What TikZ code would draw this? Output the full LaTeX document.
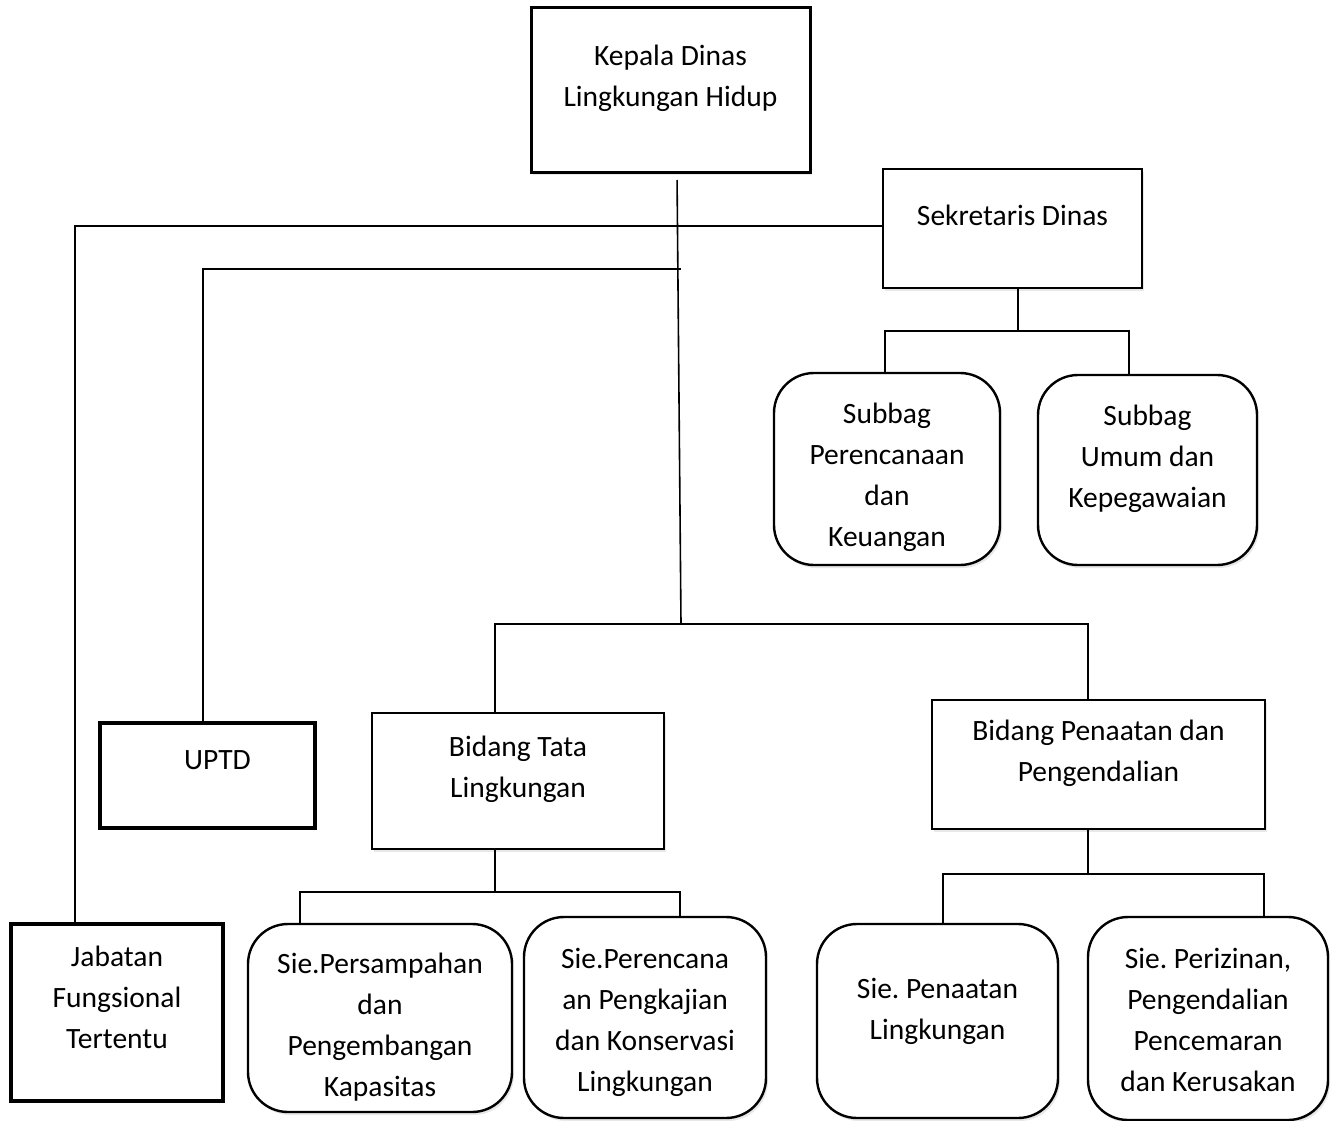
\documentclass[tikz,border=0pt]{standalone}
\usepackage{fontspec}
\setmainfont{Carlito}
\usetikzlibrary{shadows}
\frenchspacing
\begin{document}
\begin{tikzpicture}[x=1pt, y=-1pt, node distance=2cm,
    box/.style={rectangle, draw, line width=2.4pt, fill=white, inner sep=0pt,
      drop shadow={shadow xshift=2pt, shadow yshift=-3pt, opacity=0.18}},
    round box/.style={box, rounded corners=40pt},
    heavy box/.style={rectangle, draw, line width=4.5pt, fill=white, inner sep=0pt},
    line/.style={line width=1.6pt}]
  \tikzstyle{every label}=[font=\fontsize{29.5}{41}\selectfont, align=center, inner sep=0pt,
    execute at begin node=\strut]
  \useasboundingbox (0,0) rectangle (1338,1121);

  % kepala dan sekretariat
  \node[box, line width=3pt, minimum width=279pt, minimum height=164pt,
    label={[anchor=north, yshift=-38pt]north:Kepala Dinas\\Lingkungan Hidup}] (1) at (670.5,90) {};
  \node[box, minimum width=259pt, minimum height=119pt, node distance=342pt, right of=1, yshift=-138.5pt,
    label={[anchor=north, yshift=-29pt]north:Sekretaris Dinas}] (2) {};
  \node[round box, minimum width=226pt, minimum height=192pt, node distance=240.5pt, below of=2, xshift=-125.5pt,
    label={[anchor=north, yshift=-31pt]north:Subbag\\Perencanaan\\dan\\Keuangan}] (3) {};
  \node[round box, minimum width=219pt, minimum height=190pt, node distance=260.5pt, right of=3, yshift=-1pt,
    label={[anchor=north, yshift=-31pt]north:Subbag\\Umum dan\\Kepegawaian}] (4) {};

  % bidang
  \node[box, minimum width=292pt, minimum height=136pt, node distance=691pt, below of=1, xshift=-152.5pt,
    label={[anchor=north, yshift=-24pt]north:Bidang Tata\\Lingkungan}] (7) {};
  \node[box, minimum width=333pt, minimum height=129pt, node distance=580.5pt, right of=7, yshift=16.5pt,
    label={[anchor=north, yshift=-21pt]north:Bidang Penaatan dan\\Pengendalian}] (8) {};
  \node[heavy box, minimum width=215pt, minimum height=105pt, node distance=310.5pt, left of=7, yshift=5.5pt,
    label={[anchor=north, yshift=-20pt, xshift=10pt]north:UPTD}] (5) {};

  % seksi
  \node[round box, minimum width=264pt, minimum height=188pt, node distance=237pt, below of=7, xshift=-138pt,
    label={[anchor=north, yshift=-30pt]north:Sie.Persampahan\\dan\\Pengembangan\\Kapasitas}] (9) {};
  \node[round box, minimum width=242pt, minimum height=201pt, node distance=265pt, right of=9, yshift=0.5pt,
    label={[anchor=north, yshift=-32pt]north:Sie.Perencana\\an Pengkajian\\dan Konservasi\\Lingkungan}] (10) {};
  \node[round box, minimum width=241pt, minimum height=194pt, node distance=256.5pt, below of=8, xshift=-161pt,
    label={[anchor=north, yshift=-55pt]north:Sie. Penaatan\\Lingkungan}] (11) {};
  \node[round box, minimum width=240pt, minimum height=203pt, node distance=270.5pt, right of=11, yshift=2.5pt,
    label={[anchor=north, yshift=-32pt]north:Sie. Perizinan,\\Pengendalian\\Pencemaran\\dan Kerusakan}] (12) {};
  \node[heavy box, minimum width=212pt, minimum height=177pt, node distance=263pt, left of=9, yshift=5.5pt,
    label={[anchor=north, yshift=-24pt]north:Jabatan\\Fungsional\\Tertentu}] (6) {};

  % garis
  \coordinate (j0) at (681,269);
  \coordinate (j1) at (681,624);
  \draw[line, shorten <=6.5pt] ([xshift=6.5pt]1.south) -- (j1);
  \draw[line] ([yshift=2.5pt]2.west) -| ([xshift=-42pt]6.north);
  \draw[line] (j0) -| ([xshift=-4.5pt]5.north);
  \draw[line] ([xshift=-23pt]7.north) |- (j1) -| ([xshift=-10.5pt]8.north);

  \draw[line] ([xshift=5.5pt]2.south) -- ++(0,42) coordinate (j2);
  \draw[line] ([xshift=-2pt]3.north) |- (j2) -| ([xshift=-18.5pt]4.north);

  \draw[line] ([xshift=-23pt]7.south) -- ++(0,42) coordinate (j3);
  \draw[line] ([xshift=-80pt]9.north) |- (j3) -| ([xshift=35pt]10.north);

  \draw[line] ([xshift=-10.5pt]8.south) -- ++(0,44) coordinate (j4);
  \draw[line] ([xshift=5.5pt]11.north) |- (j4) -| ([xshift=56pt]12.north);
\end{tikzpicture}
\end{document}
